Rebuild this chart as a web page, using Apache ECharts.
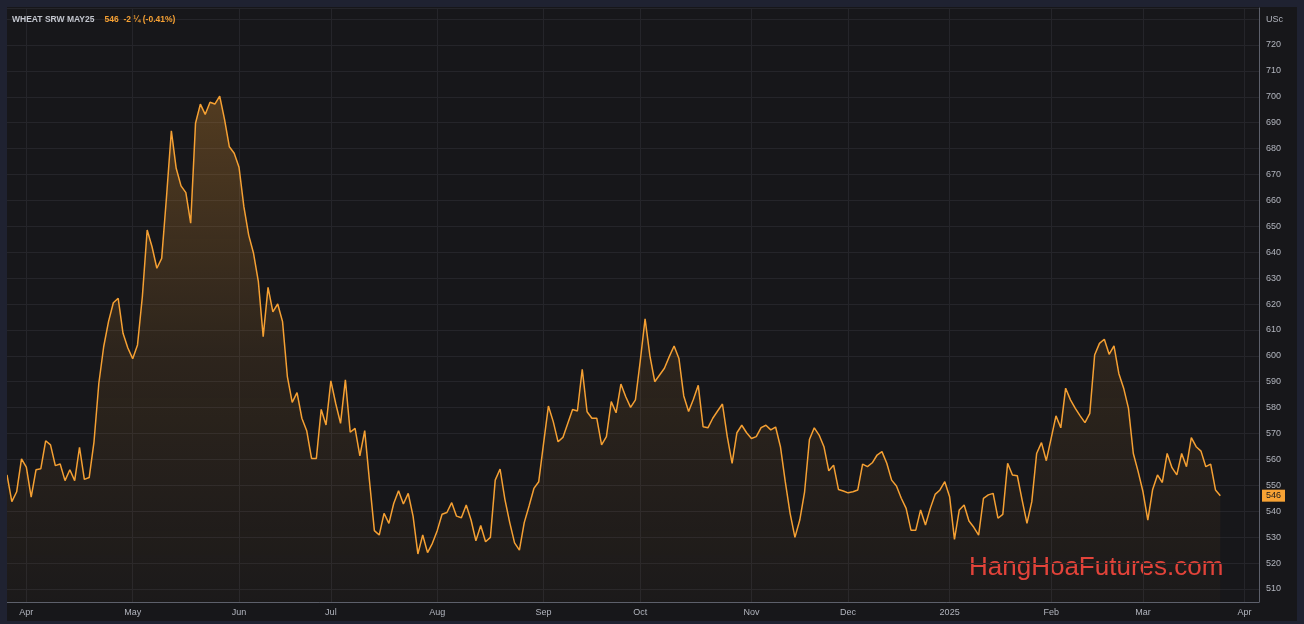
<!DOCTYPE html>
<html><head><meta charset="utf-8">
<script src="https://cdn.jsdelivr.net/npm/echarts@6/dist/echarts.min.js"></script>
<style>
html,body{margin:0;padding:0;background:#17171a;overflow:hidden;}
#c{width:1304px;height:624px;}
#frame{position:absolute;left:0;top:0;width:1304px;height:624px;box-sizing:border-box;border:7px solid #1f2231;border-bottom-width:3px;pointer-events:none;}
</style></head><body>
<div id="c"></div><div id="frame"></div>
<script>
// ---- data ----
const startDate = '2024-03-25';
const categoryCount = 260;
const holidays = ['2024-03-29','2024-05-27','2024-06-19','2024-07-04','2024-09-02','2024-11-28','2024-12-25','2025-01-01','2025-01-20','2025-02-17'];
const monthNames = ['Jan','Feb','Mar','Apr','May','Jun','Jul','Aug','Sep','Oct','Nov','Dec'];
const yTickLabels = [510,520,530,540,550,560,570,580,590,600,610,620,630,640,650,660,670,680,690,700,710,720];
const prices = [
554,543.7,547.5,560.2,557,545.4,556,556.4,567.2,565.6,
557.6,558.2,551.8,556,551.8,564.7,552.3,553,566.8,589.4,
603.5,613.2,620.5,622.2,608.7,603,598.9,604.2,622.8,648.6,
642.1,633.8,637.6,661.4,686.9,672.4,665.6,663,651.2,689.8,
697.2,693.2,697.9,697.2,700.3,691.3,680.7,678.2,672.8,657.6,
646.6,639.6,628.6,607.4,626.4,617,620,613.2,592,582,
585.8,575.9,571.1,560.4,560.4,579.3,573.3,590.3,581.6,573.9,
590.7,570.5,572,561.4,571.1,551.4,532.5,530.8,539.2,535.3,
543,547.9,542.8,546.9,538.1,523.5,530.8,524,527.6,532.5,
538.8,539.5,543.3,538.1,537.5,542.4,536.6,528.6,534.5,528.2,
529.9,552,556.3,544.6,535.6,527.8,525,535.6,542,548.8,
551.4,566.2,580.6,574.6,566.8,568.5,573.9,579.3,578.7,594.8,
578.4,575.9,575.9,565.6,568.8,582.3,578,589.1,584.2,580.1,
583,598,614.3,600,590,592.6,595.2,599.7,603.8,599,
584.5,578.5,583.2,588.6,572.6,572.2,575.9,578.7,581.4,568.8,
558.5,570.3,573.2,570.3,568.1,568.8,572.3,573.2,571.4,572.5,
564.9,551.4,539.2,529.9,536.6,547.5,567.7,572.2,569.4,564.9,
555.6,557.8,548.4,547.8,547.1,547.5,548.2,558.2,557.2,558.7,
561.7,563,558.5,552,549.7,545,541.1,532.7,532.7,540.5,
534.7,541.1,546.5,548.2,551.4,545.6,529.1,540.5,542.4,536.2,
533.8,530.8,545,546.3,546.9,537.3,538.8,558.5,554,553.7,
544.3,535.3,543.7,562.3,566.5,559.5,568.1,576.8,572.2,587.5,
583,579.7,576.8,574.2,577.8,600.3,604.8,606.4,600.6,603.8,
593.2,587.5,579.7,562.3,555.3,547.5,536.6,548.4,554,551.1,
562.3,556.8,554,562.3,557.2,568.4,564.9,563.2,557.2,558.2,
548.2,546
];
const lastPrice = 546;
const titleName = 'WHEAT SRW MAY25';
const titleChange = '546  -2 \u00BC (-0.41%)';

// ---- trading-day categories ----
const categories = [];
{
  const d = new Date(startDate + 'T00:00:00Z');
  while (categories.length < categoryCount) {
    const wd = d.getUTCDay();
    const s = d.toISOString().slice(0,10);
    if (wd !== 0 && wd !== 6 && holidays.indexOf(s) < 0) categories.push(s);
    d.setUTCDate(d.getUTCDate() + 1);
  }
}
function isMonthStart(i) {
  return i > 0 && categories[i].slice(5,7) !== categories[i-1].slice(5,7);
}
function monthLabel(s) {
  const m = +s.slice(5,7);
  return m === 1 ? s.slice(0,4) : monthNames[m-1];
}

const FONT = 'Liberation Sans, Arial, sans-serif';
const chart = echarts.init(document.getElementById('c'), null, {renderer:'canvas'});
chart.setOption({
  backgroundColor: 'transparent',
  animation: false,
  title: {
    left: 12, top: 11, padding: 0,
    text: '{a|' + titleName + '}  {b|' + titleChange + '}',
    textStyle: {
      rich: {
        a: {color:'#c3c6ce', fontSize:8.5, fontWeight:'bold', fontFamily:FONT},
        b: {color:'#f5a033', fontSize:8.5, fontWeight:'bold', fontFamily:FONT}
      }
    }
  },
  grid: {left: 7, right: 45, top: 8, bottom: 22, containLabel: false},
  xAxis: {
    type: 'category',
    data: categories,
    boundaryGap: false,
    axisLine: {show:true, lineStyle:{color:'#5d606b', width:1}},
    axisTick: {show:false},
    axisLabel: {
      interval: (i) => isMonthStart(i),
      formatter: (v) => monthLabel(v),
      color: '#b2b5be', fontSize: 9, margin: 6, fontFamily: FONT
    },
    splitLine: {show:true, interval: (i) => isMonthStart(i), lineStyle:{color:'#25252a', width:1}}
  },
  yAxis: {
    type: 'value',
    position: 'right',
    min: 504.95, max: 734.29,
    splitNumber: 23, minInterval: 10, maxInterval: 10,
    axisLine: {show:true, lineStyle:{color:'#5d606b', width:1}},
    axisTick: {show:false},
    axisLabel: {
      color: '#b2b5be', fontSize: 9, margin: 7, fontFamily: FONT,
      showMinLabel: false, showMaxLabel: false,
      formatter: (v) => {
        const r = Math.round(v);
        if (r === 730) return 'USc';
        return yTickLabels.indexOf(r) >= 0 ? String(r) : '';
      }
    },
    splitLine: {show:true, lineStyle:{color:'#25252a', width:1}}
  },
  series: [{
    type: 'line',
    data: prices,
    symbol: 'none',
    smooth: false,
    lineStyle: {color:'#f5a033', width:1.5},
    areaStyle: {
      color: new echarts.graphic.LinearGradient(0,0,0,1,[
        {offset:0, color:'rgba(245,160,51,0.38)'},
        {offset:0.5, color:'rgba(245,160,51,0.15)'},
        {offset:1, color:'rgba(245,160,51,0.03)'}
      ])
    },
    markLine: {
      silent: true,
      symbol: ['none','none'],
      animation: false,
      lineStyle: {color:'rgba(0,0,0,0)', width:1, type:'solid'},
      data: [{yAxis: lastPrice}],
      label: {
        show: true, position: 'end', distance: 3,
        formatter: String(lastPrice),
        backgroundColor: '#f7a234', color: '#1b1b1b',
        fontSize: 9, padding: [2,4,1,4], fontFamily: FONT
      }
    }
  }],
  graphic: [{
    type: 'text', left: 969, top: 555, silent: true,
    style: {text:'HangHoaFutures.com', fill:'#e2403a', fontSize:26, fontFamily:FONT}
  }]
});
</script>
</body></html>
